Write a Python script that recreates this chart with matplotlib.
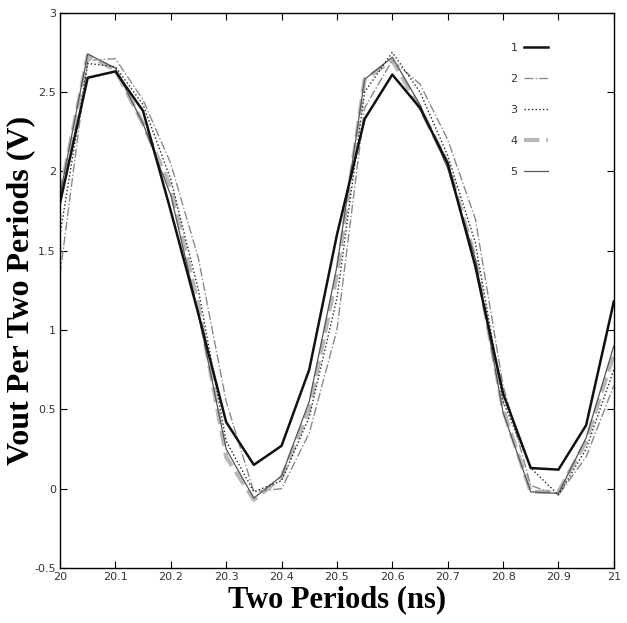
import matplotlib
matplotlib.use("Agg")
import matplotlib.pyplot as plt
import numpy as np

time_ns = [20.00, 20.05, 20.10, 20.15, 20.20, 20.25, 20.30, 20.35, 20.40, 20.45, 20.50,
           20.55, 20.60, 20.65, 20.70, 20.75, 20.80, 20.85, 20.90, 20.95, 21.00]

v1 = [1.80, 2.59, 2.63, 2.38, 1.75, 1.10, 0.42, 0.15, 0.27, 0.75, 1.60,
      2.33, 2.61, 2.40, 2.05, 1.40, 0.60, 0.13, 0.12, 0.40, 1.18]
v2 = [1.35, 2.70, 2.71, 2.45, 2.05, 1.45, 0.55, -0.02, 0.00, 0.35, 1.00,
      2.40, 2.70, 2.55, 2.20, 1.70, 0.65, 0.02, -0.04, 0.20, 0.65]
v3 = [1.60, 2.68, 2.66, 2.42, 1.95, 1.25, 0.30, -0.02, 0.05, 0.45, 1.20,
      2.50, 2.75, 2.50, 2.10, 1.55, 0.55, 0.13, -0.04, 0.25, 0.75]
v4 = [1.85, 2.73, 2.64, 2.30, 1.90, 1.15, 0.20, -0.07, 0.07, 0.50, 1.35,
      2.58, 2.70, 2.40, 2.05, 1.45, 0.50, -0.02, -0.02, 0.30, 0.85]
v5 = [1.85, 2.74, 2.65, 2.30, 1.85, 1.10, 0.25, -0.06, 0.08, 0.55, 1.40,
      2.58, 2.72, 2.42, 2.02, 1.45, 0.48, -0.02, -0.03, 0.32, 0.90]

labels = ["1", "2", "3", "4", "5"]
xticks = [20, 20.1, 20.2, 20.3, 20.4, 20.5, 20.6, 20.7, 20.8, 20.9, 21]
xtick_labels = ["20", "20.1", "20.2", "20.3", "20.4", "20.5", "20.6", "20.7", "20.8", "20.9", "21"]
yticks = [-0.5, 0, 0.5, 1, 1.5, 2, 2.5, 3]
ytick_labels = ["-0.5", "0", "0.5", "1", "1.5", "2", "2.5", "3"]

fig = plt.figure(figsize=(6.27, 6.23), dpi=100)
ax = fig.add_axes([0.0957, 0.0883, 0.8833, 0.8913])

styles = [
    dict(color="#111111", lw=1.8, ls="-"),
    dict(color="#8a8a8a", lw=1.0, ls="-."),
    dict(color="#222222", lw=1.0, ls=":"),
    dict(color="#b8b8b8", lw=3.0, ls="--"),
    dict(color="#555555", lw=0.9, ls="-"),
]
series = [v1, v2, v3, v4, v5]
order = [3, 4, 1, 2, 0]
handles = [None] * 5
for i in order:
    h, = ax.plot(time_ns, series[i], label=labels[i], **styles[i])
    handles[i] = h

ax.set_xlim(20, 21)
ax.set_ylim(-0.5, 3)
ax.set_xticks(xticks)
ax.set_xticklabels(xtick_labels)
ax.set_yticks(yticks)
ax.set_yticklabels(ytick_labels)
ax.tick_params(direction="in", top=True, right=True, length=5, width=0.8,
               labelsize=8, labelcolor="#333333", pad=3)
for lab in ax.get_xticklabels() + ax.get_yticklabels():
    lab.set_family(["Liberation Sans Narrow", "DejaVu Sans"])
for sp in ax.spines.values():
    sp.set_linewidth(1.0)

ax.set_xlabel("Two Periods (ns)", family="Liberation Serif", fontsize=22,
              fontweight="bold", labelpad=2)
ax.set_ylabel("Vout Per Two Periods (V)", family="Liberation Serif", fontsize=23,
              fontweight="bold")
ax.yaxis.set_label_coords(-0.045, 0.5)

leg = ax.legend(handles=handles, loc="upper right", frameon=False,
                markerfirst=False, fontsize=8, handlelength=2.2,
                labelspacing=1.9, bbox_to_anchor=(0.90, 0.964),
                handletextpad=0.6)
for t in leg.get_texts():
    t.set_family(["Liberation Sans Narrow", "DejaVu Sans"])
    t.set_color("#333333")

fig.savefig("out.png", dpi=100)
